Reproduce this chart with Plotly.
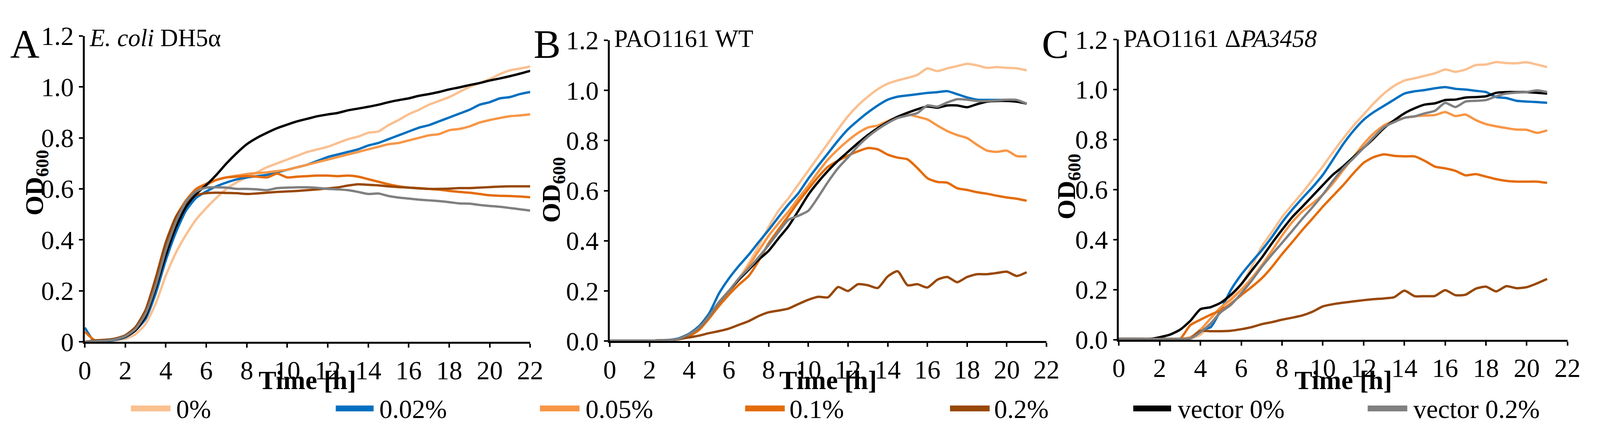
import plotly.graph_objects as go

W, H = 4390, 1138

# ----------------------------- data --------------------------------------
# sampling times (h)
time_a = [0, 0.5, 1, 1.5, 2, 2.5, 3, 3.5, 4, 4.5, 5, 5.5, 6, 6.5, 7, 7.5, 8, 8.5,
          9, 9.5, 10, 10.5, 11, 11.5, 12, 12.5, 13, 13.5, 14, 14.5, 15, 15.5, 16,
          16.5, 17, 17.5, 18, 18.5, 19, 19.5, 20, 20.5, 21, 21.5, 22]
time_bc = time_a[:43]  # B and C end at 21 h

series_names = ["0%", "0.02%", "0.05%", "0.1%", "0.2%", "vector 0%", "vector 0.2%"]
series_colors = ["#FAC090", "#0070C0", "#F79646", "#E46C0A", "#984807", "#000000", "#808080"]

# A: E. coli DH5a
A_0 = [0.0, 0.0, 0.003, 0.006, 0.012, 0.03, 0.07, 0.15, 0.26, 0.35,
       0.42, 0.48, 0.525, 0.565, 0.6, 0.625, 0.645, 0.665, 0.685, 0.70,
       0.715, 0.73, 0.745, 0.755, 0.765, 0.78, 0.795, 0.805, 0.82, 0.825,
       0.85, 0.87, 0.893, 0.91, 0.93, 0.945, 0.96, 0.98, 1.0, 1.015,
       1.03, 1.05, 1.065, 1.072, 1.08]
A_002 = [0.056, 0.0, 0.003, 0.008, 0.018, 0.045, 0.09, 0.19, 0.32, 0.43,
         0.515, 0.565, 0.59, 0.61, 0.625, 0.637, 0.645, 0.65, 0.655, 0.665,
         0.675, 0.685, 0.695, 0.71, 0.725, 0.735, 0.745, 0.755, 0.77, 0.78,
         0.795, 0.81, 0.825, 0.84, 0.85, 0.865, 0.88, 0.895, 0.91, 0.93,
         0.94, 0.955, 0.96, 0.972, 0.98]
A_005 = [0.0, 0.003, 0.005, 0.01, 0.022, 0.05, 0.115, 0.235, 0.37, 0.48,
         0.55, 0.595, 0.615, 0.635, 0.645, 0.652, 0.658, 0.662, 0.665, 0.67,
         0.675, 0.685, 0.695, 0.705, 0.715, 0.725, 0.735, 0.745, 0.755, 0.765,
         0.775, 0.78, 0.79, 0.80, 0.81, 0.815, 0.83, 0.835, 0.845, 0.86,
         0.87, 0.878, 0.885, 0.888, 0.892]
A_01 = [0.04, 0.006, 0.008, 0.012, 0.025, 0.055, 0.12, 0.24, 0.38, 0.49,
        0.555, 0.60, 0.62, 0.635, 0.645, 0.648, 0.65, 0.648, 0.645, 0.66,
        0.645, 0.648, 0.65, 0.652, 0.652, 0.65, 0.652, 0.648, 0.638, 0.628,
        0.618, 0.61, 0.605, 0.603, 0.60, 0.597, 0.592, 0.588, 0.585, 0.58,
        0.575, 0.573, 0.572, 0.57, 0.567]
A_02 = [0.0, 0.006, 0.008, 0.013, 0.026, 0.058, 0.125, 0.25, 0.39, 0.49,
        0.545, 0.575, 0.583, 0.585, 0.584, 0.583, 0.58, 0.582, 0.585, 0.588,
        0.59, 0.592, 0.595, 0.598, 0.602, 0.606, 0.613, 0.618, 0.616, 0.614,
        0.61, 0.607, 0.605, 0.602, 0.60, 0.60, 0.601, 0.603, 0.603, 0.605,
        0.607, 0.609, 0.61, 0.61, 0.61]
A_vec0 = [0.0, 0.003, 0.005, 0.01, 0.02, 0.045, 0.1, 0.21, 0.34, 0.45,
          0.53, 0.58, 0.615, 0.655, 0.7, 0.74, 0.775, 0.8, 0.82, 0.838,
          0.852, 0.865, 0.875, 0.885, 0.892, 0.898, 0.908, 0.915, 0.922, 0.93,
          0.94, 0.948, 0.955, 0.965, 0.972, 0.98, 0.99, 0.998, 1.007, 1.015,
          1.025, 1.033, 1.042, 1.052, 1.063]
A_vec02 = [0.0, 0.003, 0.005, 0.01, 0.022, 0.05, 0.11, 0.22, 0.36, 0.47,
           0.55, 0.59, 0.605, 0.606, 0.605, 0.60, 0.60, 0.598, 0.595, 0.603,
           0.605, 0.606, 0.606, 0.604, 0.60, 0.598, 0.595, 0.588, 0.58, 0.582,
           0.572, 0.566, 0.562, 0.558, 0.555, 0.552, 0.548, 0.543, 0.542, 0.537,
           0.533, 0.53, 0.525, 0.52, 0.515]

# B: PAO1161 WT
B_0 = [0.002, 0.002, 0.002, 0.002, 0.002, 0.003, 0.004, 0.012, 0.028, 0.055,
       0.1, 0.15, 0.2, 0.25, 0.31, 0.38, 0.455, 0.52, 0.57, 0.625,
       0.68, 0.735, 0.79, 0.845, 0.897, 0.94, 0.975, 1.005, 1.027, 1.04,
       1.05, 1.062, 1.088, 1.077, 1.088, 1.097, 1.106, 1.1, 1.09, 1.093,
       1.09, 1.088, 1.08]
B_002 = [0.002, 0.002, 0.002, 0.002, 0.002, 0.003, 0.005, 0.012, 0.03, 0.06,
         0.11, 0.19, 0.25, 0.3, 0.345, 0.395, 0.443, 0.495, 0.545, 0.59,
         0.648, 0.70, 0.75, 0.80, 0.845, 0.88, 0.912, 0.94, 0.963, 0.975,
         0.98, 0.985, 0.99, 0.993, 0.997, 0.985, 0.972, 0.963, 0.962, 0.962,
         0.962, 0.958, 0.947]
B_005 = [0.002, 0.002, 0.002, 0.002, 0.002, 0.003, 0.004, 0.01, 0.025, 0.05,
         0.095, 0.15, 0.195, 0.245, 0.3, 0.36, 0.42, 0.47, 0.517, 0.57,
         0.62, 0.675, 0.725, 0.765, 0.80, 0.83, 0.852, 0.86, 0.878, 0.893,
         0.904, 0.895, 0.884, 0.86, 0.838, 0.822, 0.81, 0.783, 0.76, 0.755,
         0.76, 0.738, 0.737]
B_01 = [0.002, 0.002, 0.002, 0.002, 0.002, 0.003, 0.004, 0.008, 0.02, 0.045,
        0.09, 0.14, 0.185, 0.225, 0.26, 0.32, 0.39, 0.445, 0.50, 0.555,
        0.606, 0.655, 0.696, 0.72, 0.74, 0.757, 0.77, 0.765, 0.744, 0.732,
        0.725, 0.69, 0.65, 0.635, 0.632, 0.61, 0.603, 0.594, 0.588, 0.58,
        0.573, 0.568, 0.56]
B_02 = [0.002, 0.002, 0.002, 0.002, 0.002, 0.003, 0.004, 0.008, 0.015, 0.022,
        0.032, 0.04, 0.05, 0.065, 0.08, 0.1, 0.115, 0.122, 0.13, 0.148,
        0.165, 0.177, 0.175, 0.216, 0.2, 0.227, 0.223, 0.212, 0.258, 0.279,
        0.223, 0.227, 0.214, 0.245, 0.256, 0.235, 0.256, 0.267, 0.267, 0.272,
        0.277, 0.26, 0.275]
B_vec0 = [0.002, 0.002, 0.002, 0.002, 0.002, 0.003, 0.004, 0.01, 0.028, 0.055,
          0.1, 0.155, 0.2, 0.245, 0.285, 0.325, 0.36, 0.41, 0.458, 0.52,
          0.584, 0.635, 0.68, 0.72, 0.755, 0.79, 0.822, 0.85, 0.874, 0.895,
          0.911, 0.925, 0.936, 0.931, 0.94, 0.94, 0.933, 0.945, 0.955, 0.958,
          0.958, 0.955, 0.947]
B_vec02 = [0.002, 0.002, 0.002, 0.002, 0.002, 0.003, 0.004, 0.01, 0.028, 0.055,
           0.1, 0.155, 0.2, 0.25, 0.29, 0.335, 0.383, 0.435, 0.484, 0.50,
           0.52, 0.575, 0.636, 0.69, 0.733, 0.778, 0.815, 0.845, 0.87, 0.89,
           0.9, 0.91, 0.94, 0.935, 0.952, 0.965, 0.963, 0.958, 0.958, 0.96,
           0.963, 0.962, 0.947]

# C: PAO1161 dPA3458
C_0 = [0.003, 0.003, 0.003, 0.003, 0.003, 0.003, 0.003, 0.004, 0.02, 0.06,
       0.12, 0.17, 0.22, 0.29, 0.372, 0.43, 0.49, 0.54, 0.588, 0.64,
       0.693, 0.75, 0.804, 0.855, 0.90, 0.945, 0.984, 1.015, 1.036, 1.045,
       1.055, 1.065, 1.08, 1.071, 1.08, 1.098, 1.1, 1.11, 1.106, 1.105,
       1.109, 1.1, 1.09]
C_002 = [0.003, 0.003, 0.003, 0.003, 0.003, 0.003, 0.003, 0.005, 0.04, 0.05,
         0.12, 0.2, 0.26, 0.31, 0.357, 0.41, 0.469, 0.52, 0.566, 0.61,
         0.659, 0.72, 0.782, 0.835, 0.879, 0.91, 0.935, 0.96, 0.984, 0.993,
         0.998, 1.005, 1.01, 1.003, 1.0, 0.995, 0.99, 0.97, 0.966, 0.955,
         0.952, 0.95, 0.947]
C_005 = [0.003, 0.003, 0.003, 0.003, 0.003, 0.003, 0.003, 0.01, 0.04, 0.085,
         0.13, 0.16, 0.2, 0.245, 0.297, 0.355, 0.416, 0.47, 0.513, 0.545,
         0.58, 0.625, 0.678, 0.73, 0.782, 0.825, 0.857, 0.875, 0.887, 0.893,
         0.896, 0.898, 0.91, 0.894, 0.9, 0.878, 0.862, 0.853, 0.846, 0.84,
         0.839, 0.827, 0.837]
C_01 = [0.003, 0.003, 0.003, 0.003, 0.003, 0.003, 0.003, 0.058, 0.08, 0.1,
        0.118, 0.145, 0.178, 0.21, 0.245, 0.29, 0.342, 0.39, 0.439, 0.485,
        0.532, 0.575, 0.618, 0.665, 0.707, 0.73, 0.741, 0.735, 0.733, 0.733,
        0.715, 0.692, 0.685, 0.675, 0.657, 0.662, 0.652, 0.642, 0.635, 0.632,
        0.632, 0.632, 0.627]
C_02 = [0.003, 0.003, 0.003, 0.003, 0.003, 0.003, 0.003, 0.005, 0.035, 0.034,
        0.034, 0.036, 0.042, 0.05, 0.062, 0.07, 0.08, 0.088, 0.097, 0.112,
        0.133, 0.142, 0.148, 0.153, 0.158, 0.162, 0.165, 0.17, 0.196, 0.174,
        0.174, 0.175, 0.198, 0.178, 0.18, 0.204, 0.212, 0.193, 0.214, 0.206,
        0.21, 0.225, 0.243]
C_vec0 = [0.003, 0.003, 0.003, 0.003, 0.01, 0.02, 0.04, 0.075, 0.122, 0.13,
          0.148, 0.18, 0.222, 0.275, 0.327, 0.385, 0.439, 0.49, 0.532, 0.575,
          0.618, 0.66, 0.693, 0.73, 0.767, 0.805, 0.846, 0.877, 0.905, 0.925,
          0.94, 0.945, 0.958, 0.96, 0.968, 0.97, 0.973, 0.987, 0.99, 0.99,
          0.99, 0.987, 0.984]
C_vec02 = [0.003, 0.003, 0.003, 0.003, 0.003, 0.003, 0.003, 0.005, 0.03, 0.065,
           0.11, 0.14, 0.185, 0.235, 0.29, 0.34, 0.387, 0.435, 0.484, 0.53,
           0.58, 0.635, 0.685, 0.725, 0.767, 0.81, 0.85, 0.87, 0.887, 0.893,
           0.905, 0.915, 0.947, 0.93, 0.952, 0.955, 0.958, 0.973, 0.984, 0.988,
           0.99, 0.997, 0.99]

hour_ticks = [0, 2, 4, 6, 8, 10, 12, 14, 16, 18, 20, 22]
od_ticks = [0, 0.2, 0.4, 0.6, 0.8, 1.0, 1.2]
od_labels_a = ["0", "0.2", "0.4", "0.6", "0.8", "1.0", "1.2"]
od_labels_bc = ["0.0", "0.2", "0.4", "0.6", "0.8", "1.0", "1.2"]

panel_letters = ["A", "B", "C"]
panel_titles = ["<i>E. coli</i> DH5α", "PAO1161 WT", "PAO1161 Δ<i>PA3458</i>"]

panels = [
    (time_a, [A_0, A_002, A_005, A_01, A_02, A_vec0, A_vec02], od_labels_a),
    (time_bc, [B_0, B_002, B_005, B_01, B_02, B_vec0, B_vec02], od_labels_bc),
    (time_bc, [C_0, C_002, C_005, C_01, C_02, C_vec0, C_vec02], od_labels_bc),
]

# ----------------------------- geometry ----------------------------------
# Positions below are pixels of the target picture. The photographed page
# only shows ~4094 css px across (and sits 8 px in from the body margin),
# so map target pixels onto that visible area.
VIS_W = 4094


def px(x):
    return (x * VIS_W / W - 8) / W


def py(y):
    return 1 - (y - 8) / H


# (left, right, bottom, top) of each plot area
boxes = [(217, 1454, 895, 58), (1675, 2888, 893, 70), (3089, 4335, 889, 68)]
letter_pos = [(50, 80), (1501, 80), (2912, 80)]
title_pos = [(228, 64), (1685, 66), (3100, 66)]
ytitle_pos = [(82, 460), (1517, 479), (2949, 470)]
legend_lines = [(345, 455), (914, 1019), (1481, 1591), (2051, 2161),
                (2620, 2730), (3129, 3234), (3780, 3890)]
legend_text_x = [469, 1033, 1606, 2172, 2740, 3250, 3905]
legend_y = 1077
xtitle_y = 1000

serif = "Liberation Serif"

fig = go.Figure()
annotations = []
shapes = []

for i, (times, ys, ylabels) in enumerate(panels):
    n = "" if i == 0 else str(i + 1)
    for name, color, vals in zip(series_names, series_colors, ys):
        fig.add_trace(go.Scatter(
            x=times, y=vals, mode="lines", name=name,
            line=dict(color=color, width=6, shape="spline", smoothing=0.6),
            xaxis="x" + n, yaxis="y" + n, showlegend=False, hoverinfo="skip"
        ))

    left, right, bottom, top = boxes[i]
    axis_style = dict(
        showline=True, linecolor="black",
        ticks="outside", ticklen=10, tickwidth=4, tickcolor="black",
        showgrid=False, zeroline=False,
        tickfont=dict(family=serif, size=67, color="black"),
    )
    fig.update_layout({
        "xaxis" + n: dict(domain=[px(left), px(right)], anchor="y" + n,
                          range=[0, 22], tickmode="array", tickvals=hour_ticks,
                          linewidth=5, **axis_style),
        "yaxis" + n: dict(domain=[py(bottom), py(top)], anchor="x" + n,
                          range=[0, 1.2], tickmode="array", tickvals=od_ticks,
                          ticktext=ylabels, linewidth=4.5, **axis_style),
    })

    # panel letter and strain name
    lx, ly = letter_pos[i]
    annotations.append(dict(text=panel_letters[i], x=px(lx), y=py(ly),
                            xref="paper", yref="paper", showarrow=False,
                            xanchor="center", yanchor="middle",
                            font=dict(family=serif, size=104, color="black")))
    tx, ty = title_pos[i]
    annotations.append(dict(text=panel_titles[i], x=px(tx), y=py(ty),
                            xref="paper", yref="paper", showarrow=False,
                            xanchor="left", yanchor="middle",
                            font=dict(family=serif, size=63, color="black")))
    # axis titles
    ox, oy = ytitle_pos[i]
    annotations.append(dict(text="<b>OD<sub>600</sub></b>", x=px(ox), y=py(oy),
                            xref="paper", yref="paper", showarrow=False,
                            textangle=-90, xanchor="center", yanchor="middle",
                            font=dict(family=serif, size=66, color="black")))
    annotations.append(dict(text="<b>Time [h]</b>", x=px((left + right) / 2), y=py(xtitle_y),
                            xref="paper", yref="paper", showarrow=False,
                            xanchor="center", yanchor="middle",
                            font=dict(family=serif, size=68, color="black")))

# ----------------------------- legend ------------------------------------
for name, color, (x0, x1), tx in zip(series_names, series_colors, legend_lines, legend_text_x):
    shapes.append(dict(type="line", xref="paper", yref="paper",
                       x0=px(x0), x1=px(x1), y0=py(legend_y), y1=py(legend_y),
                       line=dict(color=color, width=15)))
    annotations.append(dict(text=name, x=px(tx), y=py(legend_y + 2),
                            xref="paper", yref="paper", showarrow=False,
                            xanchor="left", yanchor="middle",
                            font=dict(family=serif, size=67, color="black")))

fig.update_layout(
    width=W, height=H,
    margin=dict(l=0, r=0, t=0, b=0),
    paper_bgcolor="white", plot_bgcolor="white",
    showlegend=False,
    annotations=annotations,
    shapes=shapes,
)

fig.write_html("out.html")
